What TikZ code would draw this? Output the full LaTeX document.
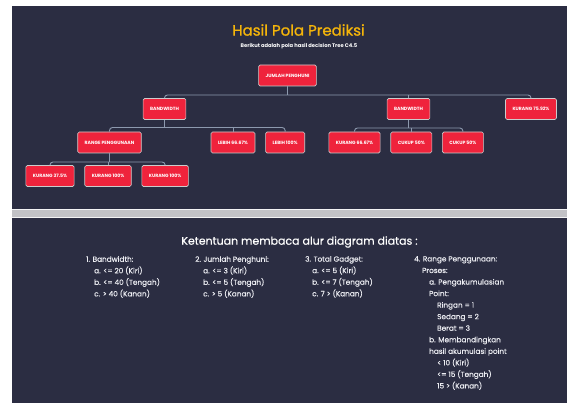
\documentclass[tikz,border=0pt]{standalone}
\usepackage{fontspec}
\setmainfont{Poppins}
\newfontfamily\medfont{Poppins}[FakeBold=0.9]
\newfontfamily\notefont{Poppins}[FakeBold=0.35]
\usepackage{xcolor}
\usetikzlibrary{positioning}

\definecolor{panel}{HTML}{2B2D42}
\definecolor{boxred}{HTML}{EF233C}
\definecolor{linegray}{HTML}{8D99AE}
\definecolor{titlegold}{HTML}{F5B50A}
\definecolor{textlight}{HTML}{ECEDF2}
\definecolor{bandgray}{HTML}{C2C2C6}

\tikzset{
  leaf/.style={draw=gray!40, fill=boxred, rounded corners=1.5pt, line width=0.6pt,
    minimum height=21pt, inner xsep=7pt, inner ysep=0pt, text=white,
    font=\fontsize{4.6}{5}\selectfont\bfseries},
  link/.style={draw=linegray, line width=0.9pt, rounded corners=3pt},
  notes/.style={anchor=north west, align=left, inner sep=0pt, text=textlight,
    font=\notefont\fontsize{7.3}{11.55}\selectfont},
}

\begin{document}
\begin{tikzpicture}[x=1pt, y=-1pt]
  \useasboundingbox (0,0) rectangle (567,403);
  \fill[white] (0,0) rectangle (567,403);
  \fill[panel] (12,6) rectangle (567,403);
  % divider band
  \fill[bandgray] (12,209) rectangle (567,217);
  \draw[white!80!bandgray, line width=0.6pt] (12,209) -- (567,209) (12,217) -- (567,217);

  \node (title) at (298.5,30) [text=titlegold, font=\medfont\fontsize{15}{18}\selectfont] {Hasil Pola Prediksi};
  \node (subtitle) at (299,46) [text=white, font=\fontsize{5.2}{6}\selectfont\bfseries] {Berikut adalah pola hasil decision Tree C4.5};

  % tree
  \node (jumlah) [leaf] at (287.5,75.5) {JUMLAH PENGHUNI};
  \node (bwleft) [leaf] at (164.5,109) {BANDWIDTH};
  \node (bwright) [leaf] at (408.5,109) {BANDWIDTH};
  \node (kurang7592) [leaf] at (531,109) {KURANG 75.92\%};
  \node (range) [leaf] at (109.5,142.5) {RANGE PENGGUNAAN};
  \node (lebih6667) [leaf] at (233,142.5) {LEBIH 66.67\%};
  \node (lebih100) [leaf, right=10pt of lebih6667] {LEBIH 100\%};
  \node (kurang6667) [leaf] at (354.5,142.5) {KURANG 66.67\%};
  \node (cukupa) [leaf, right=10pt of kurang6667] {CUKUP 50\%};
  \node (cukupb) [leaf, right=10pt of cukupa] {CUKUP 50\%};
  \node (kurang375) [leaf] at (50,176) {KURANG 37.5\%};
  \node (kurang100a) [leaf, right=10pt of kurang375] {KURANG 100\%};
  \node (kurang100b) [leaf, right=10pt of kurang100a] {KURANG 100\%};

  \coordinate (busa) at (287.5,95);
  \coordinate (busb) at (164.5,127.5);
  \coordinate (busc) at (408.5,128);
  \coordinate (busd) at (109.5,162);

  \draw [link] (jumlah) -- (busa);
  \draw [link] (bwleft.north) |- (busa) -| (kurang7592.north);
  \draw [link] (bwright.north) -- (bwright.north |- busa);

  \draw [link] (bwleft) -- (busb);
  \draw [link] (range.north) |- (busb) -| (lebih100.north);
  \draw [link] (lebih6667.north) -- (lebih6667.north |- busb);

  \draw [link] (bwright) -- (busc);
  \draw [link] (kurang6667.north) |- (busc) -| (cukupb.north);
  \draw [link] (cukupa.north) -- (cukupa.north |- busc);

  \draw [link] (range) -- (busd);
  \draw [link] (kurang375.north) |- (busd) -| (kurang100b.north);
  \draw [link] (kurang100a.north) -- (kurang100a.north |- busd);

  % reading notes
  \node (heading) at (299.5,242) [text=white, font=\notefont\fontsize{11}{13}\selectfont] {Ketentuan membaca alur diagram diatas :};
  \node (bandwidth) [notes] at (86,256) {1. Bandwidth:\\
    \hspace*{8pt}a. <= 20 (Kiri)\\
    \hspace*{8pt}b. <= 40 (Tengah)\\
    \hspace*{8pt}c. > 40 (Kanan)};
  \node (penghuni) [notes] at (195,256) {2. Jumlah Penghuni:\\
    \hspace*{8pt}a. <= 3 (Kiri)\\
    \hspace*{8pt}b. <= 5 (Tengah)\\
    \hspace*{8pt}c. > 5 (Kanan)};
  \node (gadget) [notes] at (305,256) {3. Total Gadget:\\
    \hspace*{7pt}a. <= 5 (Kiri)\\
    \hspace*{7pt}b. <= 7 (Tengah)\\
    \hspace*{7pt}c. 7 > (Kanan)};
  \node (penggunaan) [notes] at (414,256) {4. Range Penggunaan:\\
    \hspace*{8pt}Proses:\\
    \hspace*{15pt}a. Pengakumulasian\\
    \hspace*{15pt}Point:\\
    \hspace*{23pt}Ringan = 1\\
    \hspace*{23pt}Sedang = 2\\
    \hspace*{23pt}Berat = 3\\
    \hspace*{15pt}b. Membandingkan\\
    \hspace*{15pt}hasil akumulasi point\\
    \hspace*{23pt}< 10 (Kiri)\\
    \hspace*{23pt}<= 15 (Tengah)\\
    \hspace*{23pt}15 > (Kanan)};
\end{tikzpicture}
\end{document}
